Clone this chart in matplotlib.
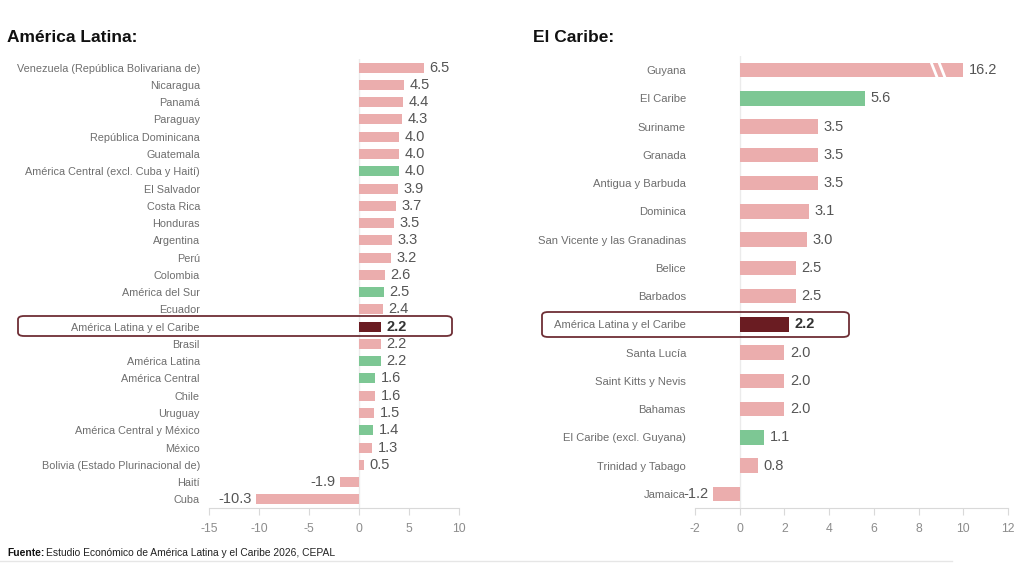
import matplotlib
matplotlib.use("Agg")
import matplotlib.pyplot as plt
from matplotlib.patches import FancyBboxPatch
from matplotlib.lines import Line2D

plt.rcParams['font.family'] = ['Liberation Sans', 'DejaVu Sans']

# ---------------- data ----------------
al_labels = ["Venezuela (República Bolivariana de)", "Nicaragua", "Panamá", "Paraguay",
             "República Dominicana", "Guatemala", "América Central (excl. Cuba y Haití)",
             "El Salvador", "Costa Rica", "Honduras", "Argentina", "Perú", "Colombia",
             "América del Sur", "Ecuador", "América Latina y el Caribe", "Brasil",
             "América Latina", "América Central", "Chile", "Uruguay",
             "América Central y México", "México", "Bolivia (Estado Plurinacional de)",
             "Haití", "Cuba"]
al_values = [6.5, 4.5, 4.4, 4.3, 4.0, 4.0, 4.0, 3.9, 3.7, 3.5, 3.3, 3.2, 2.6,
             2.5, 2.4, 2.2, 2.2, 2.2, 1.6, 1.6, 1.5, 1.4, 1.3, 0.5, -1.9, -10.3]
al_kind = ["c", "c", "c", "c", "c", "c", "g", "c", "c", "c", "c", "c", "c",
           "g", "c", "h", "c", "g", "g", "c", "c", "g", "c", "c", "c", "c"]

ca_labels = ["Guyana", "El Caribe", "Suriname", "Granada", "Antigua y Barbuda", "Dominica",
             "San Vicente y las Granadinas", "Belice", "Barbados",
             "América Latina y el Caribe", "Santa Lucía", "Saint Kitts y Nevis",
             "Bahamas", "El Caribe (excl. Guyana)", "Trinidad y Tabago", "Jamaica"]
ca_values = [16.2, 5.6, 3.5, 3.5, 3.5, 3.1, 3.0, 2.5, 2.5, 2.2, 2.0, 2.0, 2.0, 1.1, 0.8, -1.2]
ca_kind = ["c", "g", "c", "c", "c", "c", "c", "c", "c", "h", "c", "c", "c", "g", "c", "c"]
ca_cap = 10.0   # broken-axis display cap for Guyana

al_ticks = [-15, -10, -5, 0, 5, 10]
ca_ticks = [-2, 0, 2, 4, 6, 8, 10, 12]

colors = {"c": "#EBADAD", "g": "#7DC794", "h": "#6A1C22"}
label_col = "#6E6E6E"
value_col = "#555555"
axis_col = "#D9D9D9"

W, H = 1024, 576
fig = plt.figure(figsize=(W / 100, H / 100), dpi=100)


def px_axes(x0, x1, y0, y1):
    return fig.add_axes([x0 / W, 1 - y1 / H, (x1 - x0) / W, (y1 - y0) / H])


def style(ax, ticks, xlim, n, lab_fs):
    ax.set_xlim(*xlim)
    ax.set_ylim(n - 0.5, -0.5)
    for s in ["top", "right", "left"]:
        ax.spines[s].set_visible(False)
    ax.spines["bottom"].set_color(axis_col)
    ax.set_xticks(ticks)
    ax.set_xticklabels([str(t) for t in ticks])
    ax.tick_params(axis="x", colors=axis_col, labelcolor="#8C8C8C", labelsize=8.8,
                   length=5, direction="out", pad=6)
    ax.tick_params(axis="y", length=0, labelcolor=label_col, labelsize=lab_fs, pad=6.5)
    ax.axvline(0, color="#EBEBEB", lw=1, zorder=0)


def draw(ax, labels, values, kinds, bar_h, cap=None, fs=10.5):
    n = len(values)
    ypos = list(range(n))
    shown = [min(v, cap) if cap is not None else v for v in values]
    ax.barh(ypos, shown, height=bar_h, color=[colors[k] for k in kinds], zorder=2)
    ax.set_yticks(ypos)
    ax.set_yticklabels(labels)
    for y, v, s, k in zip(ypos, values, shown, kinds):
        if v >= 0:
            ax.annotate(f"{v:.1f}", (s, y), xytext=(4, 0), textcoords="offset points",
                        ha="left", va="center", fontsize=fs,
                        color=value_col if k != "h" else "#333333",
                        fontweight="bold" if k == "h" else "normal")
        else:
            ax.annotate(f"{v:.1f}", (s, y), xytext=(-3, 0), textcoords="offset points",
                        ha="right", va="center", fontsize=fs, color=value_col)


# Left panel
ax1 = px_axes(209, 459, 59, 508)
style(ax1, al_ticks, (-15, 10), len(al_values), 7.8)
draw(ax1, al_labels, al_values, al_kind, 0.58)

# Right panel
ax2 = px_axes(695, 1008, 56, 508)
style(ax2, ca_ticks, (-2, 12), len(ca_values), 8.1)
draw(ax2, ca_labels, ca_values, ca_kind, 0.52, cap=ca_cap)

# break marks on Guyana bar
for xa, xb in [(8.55, 8.85), (8.9, 9.2)]:
    ax2.add_line(Line2D([xa, xb], [-0.3, 0.3], color="white", lw=2.0, zorder=3))

# highlight boxes
for (x0, x1, y0, y1) in [(18, 452, 316, 336), (542, 849, 312, 337)]:
    box = FancyBboxPatch((x0 / W, 1 - y1 / H), (x1 - x0) / W, (y1 - y0) / H,
                         boxstyle="round,pad=0,rounding_size=0.006",
                         transform=fig.transFigure, fill=False,
                         edgecolor="#6E2E35", lw=1.3, zorder=5)
    fig.add_artist(box)

# titles
fig.text(7 / W, 1 - 38 / H, "América Latina:", fontsize=12.5, fontweight="bold",
         color="#111111", va="center", ha="left")
fig.text(533 / W, 1 - 38 / H, "El Caribe:", fontsize=12.5, fontweight="bold",
         color="#111111", va="center", ha="left")

# source
fig.text(7 / W, 1 - 553 / H, "Fuente:", fontsize=7.4, fontweight="bold",
         color="#111111", va="center", ha="left")
fig.text(46 / W, 1 - 553 / H, "Estudio Económico de América Latina y el Caribe 2026, CEPAL",
         fontsize=7.4, color="#222222", va="center", ha="left")
fig.add_artist(Line2D([0, 0.93], [1 - 561 / H, 1 - 561 / H], transform=fig.transFigure,
                      color="#E6E6E6", lw=1))

fig.savefig("out.png", dpi=100)
